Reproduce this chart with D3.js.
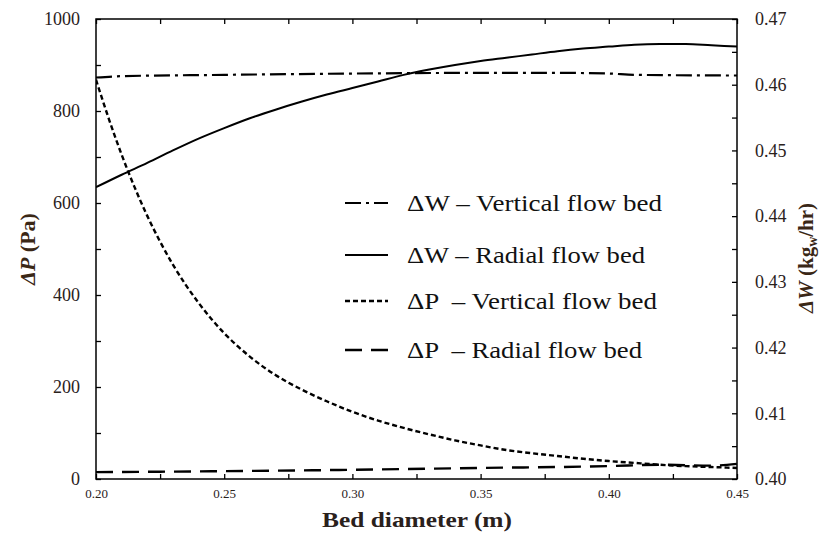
<!DOCTYPE html>
<html><head><meta charset="utf-8">
<script src="https://cdn.jsdelivr.net/npm/d3@7"></script>
<style>
body{margin:0;background:#fff;}
svg text{font-family:"Liberation Serif","DejaVu Serif Condensed","DejaVu Serif",serif !important;font-stretch:condensed;}
</style></head>
<body><svg id="c" width="819" height="542"></svg>
<script>
// ---- data ----
const dpVertX = [0.200,0.205,0.210,0.215,0.220,0.225,0.230,0.235,0.240,0.245,0.250,0.255,0.260,0.270,0.280,0.290,0.300,0.310,0.320,0.330,0.340,0.350,0.360,0.370,0.380,0.390,0.400,0.410,0.420,0.430,0.440,0.450];
const dpVert  = [868,783,705,635,572,516,466,422,383,348,317,290,266,226,195,169,146,127,111,97,84,73,63,56,50,44,39,35,31,28,26,24];
const dpRadX  = [0.20,0.25,0.30,0.35,0.40,0.42,0.44,0.45];
const dpRad   = [15,17,20,24,28,31,29,33];
const dwRadX  = [0.20,0.21,0.22,0.23,0.24,0.25,0.26,0.27,0.28,0.29,0.30,0.31,0.32,0.33,0.34,0.35,0.36,0.37,0.38,0.39,0.40,0.41,0.42,0.43,0.44,0.45];
const dwRad   = [0.4444,0.4463,0.4481,0.4500,0.4518,0.4534,0.4549,0.4562,0.4574,0.4585,0.4595,0.4605,0.4615,0.4623,0.4630,0.4636,0.4641,0.4646,0.4651,0.4655,0.4658,0.4661,0.4662,0.4662,0.4660,0.4658];
const dwVertX = [0.20,0.21,0.25,0.30,0.35,0.38,0.40,0.41,0.45];
const dwVert  = [0.4611,0.4613,0.4615,0.4617,0.4618,0.4618,0.4617,0.4615,0.4614];
const xTicks = [0.20,0.25,0.30,0.35,0.40,0.45];
const yLeftTicks = [0,200,400,600,800,1000];
const yRightTicks = [0.40,0.41,0.42,0.43,0.44,0.45,0.46,0.47];
const legendLabels = ["ΔW – Vertical flow bed","ΔW – Radial flow bed","ΔP  – Vertical flow bed","ΔP  – Radial flow bed"];

// ---- layout ----
const L=96,R=737,T=19,B=479;
const FONT = '"Liberation Serif","DejaVu Serif Condensed","DejaVu Serif",serif';
const svg = d3.select("#c");
const x = d3.scaleLinear([0.20,0.45],[L,R]);
const yL = d3.scaleLinear([0,1000],[B,T]);
const yR = d3.scaleLinear([0.40,0.47],[B,T]);
const txtCol = "#2a211c";

const minorX = d3.range(0,11).map(i=>0.20+i*0.025);
const minorL = d3.range(0,11).map(i=>i*100);
const minorR = d3.range(0,15).map(i=>0.40+i*0.005);

function styleAxis(g){ g.select(".domain").remove(); g.selectAll("line").attr("stroke","#000").attr("stroke-width",1.3); }

svg.append("g").attr("transform",`translate(0,${B})`).call(d3.axisBottom(x).tickValues(minorX).tickSize(-5).tickFormat("")).call(styleAxis);
svg.append("g").attr("transform",`translate(0,${T})`).call(d3.axisTop(x).tickValues(minorX).tickSize(-5).tickFormat("")).call(styleAxis);
svg.append("g").attr("transform",`translate(${L},0)`).call(d3.axisLeft(yL).tickValues(minorL).tickSize(-5).tickFormat("")).call(styleAxis);
svg.append("g").attr("transform",`translate(${R},0)`).call(d3.axisRight(yR).tickValues(minorR).tickSize(-5).tickFormat("")).call(styleAxis);

const gxl = svg.append("g").attr("transform",`translate(0,${B})`).call(d3.axisBottom(x).tickValues(xTicks).tickSize(0).tickPadding(10).tickFormat(d3.format(".2f")));
gxl.attr("font-family",FONT).select(".domain").remove();
gxl.selectAll("text").attr("font-size",13).attr("fill",txtCol);
const gyl = svg.append("g").attr("transform",`translate(${L},0)`).call(d3.axisLeft(yL).tickValues(yLeftTicks).tickSize(0).tickPadding(16).tickFormat(d3.format("d")));
gyl.attr("font-family",FONT).select(".domain").remove();
gyl.selectAll("text").attr("font-size",18).attr("fill",txtCol);
const gyr = svg.append("g").attr("transform",`translate(${R},0)`).call(d3.axisRight(yR).tickValues(yRightTicks).tickSize(0).tickPadding(18).tickFormat(d3.format(".2f")));
gyr.attr("font-family",FONT).select(".domain").remove();
gyr.selectAll("text").attr("font-size",18).attr("fill",txtCol);

svg.append("rect").attr("x",L).attr("y",T).attr("width",R-L).attr("height",B-T).attr("fill","none").attr("stroke","#000").attr("stroke-width",1.5);

svg.append("clipPath").attr("id","clp").append("rect").attr("x",L).attr("y",T-2).attr("width",R-L).attr("height",B-T+2);
const series = [
  {xs:dwVertX, ys:dwVert, y:yR, dash:"16,5,3,5", w:2.2},
  {xs:dwRadX,  ys:dwRad,  y:yR, dash:null, w:2},
  {xs:dpVertX, ys:dpVert, y:yL, dash:"5,3", w:2.4},
  {xs:dpRadX,  ys:dpRad,  y:yL, dash:"17,9", w:2.4}
];
const gs = svg.append("g").attr("clip-path","url(#clp)");
series.forEach(s=>{
  const line = d3.line().x((d,i)=>x(s.xs[i])).y((d,i)=>s.y(s.ys[i])).curve(d3.curveMonotoneX);
  gs.append("path").attr("d",line(s.ys)).attr("fill","none").attr("stroke","#000")
    .attr("stroke-width",s.w).attr("stroke-dasharray",s.dash);
});

const legY = [203,255,301,350];
const legW = [255,238,250,235];
const lg = svg.append("g").attr("font-family",FONT);
series.forEach((s,i)=>{
  lg.append("line").attr("x1",345).attr("x2",388).attr("y1",legY[i]).attr("y2",legY[i])
    .attr("stroke","#000").attr("stroke-width",s.w).attr("stroke-dasharray",s.dash);
  lg.append("text").attr("x",407).attr("y",legY[i]+8).attr("font-size",23).attr("fill","#111")
    .style("white-space","pre").attr("textLength",legW[i]).attr("lengthAdjust","spacingAndGlyphs").text(legendLabels[i]);
});

svg.append("text").attr("x",417).attr("y",527).attr("text-anchor","middle").attr("font-size",22).attr("font-weight","bold")
  .attr("font-family",FONT).attr("fill",txtCol).attr("textLength",190).attr("lengthAdjust","spacingAndGlyphs").text("Bed diameter (m)");

const lt = svg.append("text").attr("transform","translate(35,249) rotate(-90)").attr("text-anchor","middle")
  .attr("font-family",FONT).attr("font-size",22).attr("font-weight","bold").attr("fill","#3a2716");
lt.append("tspan").attr("font-style","italic").text("ΔP");
lt.append("tspan").text(" (Pa)");

const rt = svg.append("text").attr("transform","translate(813,258) rotate(-90)").attr("text-anchor","middle")
  .attr("font-family",FONT).attr("font-size",21).attr("font-weight","bold").attr("fill","#3a2716");
rt.append("tspan").attr("font-style","italic").text("ΔW");
rt.append("tspan").text(" (kg");
rt.append("tspan").attr("font-size",14).attr("dy",4).text("w");
rt.append("tspan").attr("dy",-4).text("/hr)");
</script></body></html>
